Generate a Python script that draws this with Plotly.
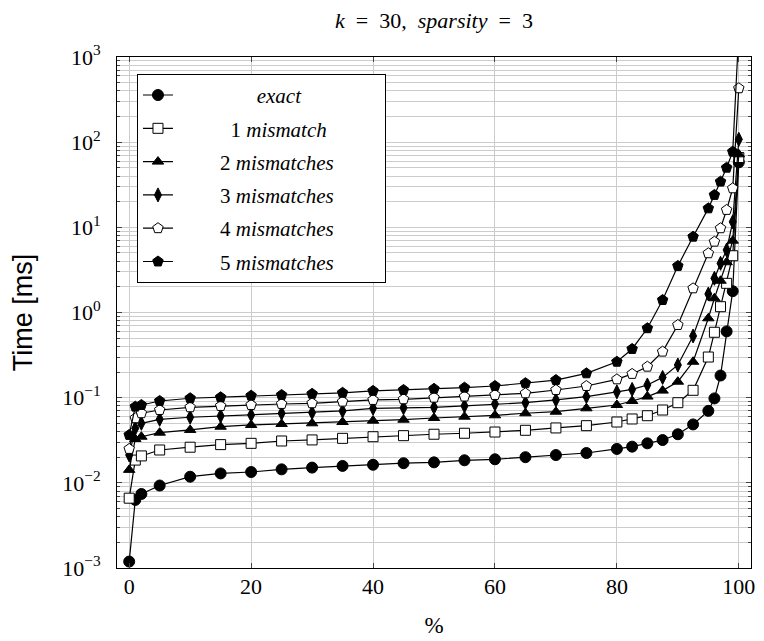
import plotly.graph_objects as go

X = [0, 1, 2, 5, 10, 15, 20, 25, 30, 35, 40, 45, 50, 55, 60, 65, 70, 75,
     80, 82.5, 85, 87.5, 90, 92.5, 95, 96, 97, 98, 99, 100]

exact = [0.00119, 0.0063, 0.0074, 0.0093, 0.0118, 0.0129, 0.0134, 0.0144, 0.0151,
         0.0158, 0.0163, 0.0170, 0.0174, 0.0184, 0.0189, 0.0200, 0.0212, 0.0224,
         0.0250, 0.0266, 0.0291, 0.0318, 0.0372, 0.0485, 0.070, 0.098, 0.182,
         0.60, 1.78, 58]
mis1 = [0.0066, 0.0185, 0.0207, 0.0243, 0.0262, 0.0281, 0.0291, 0.0310, 0.0319,
        0.0333, 0.0348, 0.0358, 0.0372, 0.0382, 0.0395, 0.0414, 0.0441, 0.0469,
        0.0518, 0.0562, 0.0614, 0.0716, 0.0873, 0.122, 0.30, 0.586, 1.17,
        2.2, 4.64, 66]
mis2 = [0.0142, 0.0327, 0.0348, 0.0388, 0.0418, 0.0456, 0.0478, 0.0491, 0.0500,
        0.0518, 0.0537, 0.0551, 0.0577, 0.0598, 0.0621, 0.0656, 0.0684, 0.075,
        0.082, 0.0914, 0.103, 0.121, 0.154, 0.264, 0.855, 1.47, 2.36,
        3.89, 6.97, 72]
mis3 = [0.0212, 0.0437, 0.050, 0.0557, 0.0589, 0.061, 0.0626, 0.0656, 0.0667,
        0.0698, 0.075, 0.076, 0.077, 0.080, 0.0843, 0.0873, 0.094, 0.103,
        0.117, 0.125, 0.141, 0.173, 0.242, 0.530, 1.65, 2.52, 3.78,
        5.42, 11.6, 108]
mis4 = [0.025, 0.0573, 0.0656, 0.0716, 0.0771, 0.0798, 0.082, 0.0843, 0.0859,
        0.0897, 0.094, 0.0957, 0.100, 0.103, 0.1075, 0.1125, 0.123, 0.137,
        0.164, 0.190, 0.231, 0.347, 0.713, 1.92, 4.96, 6.78, 9.75,
        16.0, 28.7, 429]
mis5 = [0.0365, 0.0784, 0.082, 0.0914, 0.0984, 0.101, 0.1055, 0.1075, 0.111,
        0.114, 0.120, 0.123, 0.127, 0.131, 0.137, 0.148, 0.161, 0.193,
        0.264, 0.373, 0.653, 1.40, 3.52, 7.76, 16.7, 24.0, 34.4,
        50.1, 77.3, 2000]

x_ticks = [0, 20, 40, 60, 80, 100]
y_exponents = [-3, -2, -1, 0, 1, 2, 3]

names = ["<i>exact</i>", "1 <i>mismatch</i>", "2 <i>mismatches</i>",
         "3 <i>mismatches</i>", "4 <i>mismatches</i>", "5 <i>mismatches</i>"]
series = [exact, mis1, mis2, mis3, mis4, mis5]

NB = "\u00a0"
lead = [15, 10, 8, 8, 8, 8]
trail = [15, 10, 8, 8, 8, 8]
styles = [
    dict(symbol="circle", size=11, color="black"),
    dict(symbol="square", size=10, color="white"),
    dict(symbol="triangle-up", size=10, color="black"),
    dict(symbol="diamond-tall", size=10, color="black"),
    dict(symbol="pentagon", size=11, color="white"),
    dict(symbol="pentagon", size=11, color="black"),
]

fig = go.Figure()
for i, (nm, ys, st) in enumerate(zip(names, series, styles)):
    fig.add_trace(go.Scatter(
        x=X, y=ys, mode="lines+markers",
        name=NB * lead[i] + nm + NB * trail[i],
        legendgroup=f"g{i}",
        line=dict(color="black", width=1.2),
        marker=dict(symbol=st["symbol"], size=st["size"], color=st["color"],
                    line=dict(color="black", width=1)),
    ))

serif = "Liberation Serif"
grid = "#cccccc"
eq = NB * 2 + "=" + NB * 2
fig.update_layout(
    width=764, height=641,
    margin=dict(l=109, r=21, t=49, b=81, autoexpand=False),
    paper_bgcolor="white", plot_bgcolor="white",
    title=dict(text="<i>k</i>" + eq + "30," + NB * 2 + "<i>sparsity</i>" + eq + "3",
               x=0.5, xref="paper", y=1 - 5 / 641, yref="container",
               xanchor="center", yanchor="top",
               font=dict(family=serif, size=22, color="black")),
    showlegend=True,
    legend=dict(x=0.0315, y=0.967, xanchor="left", yanchor="top",
                bordercolor="black", borderwidth=1, bgcolor="white",
                font=dict(family=serif, size=21, color="black"),
                tracegroupgap=3),
    xaxis=dict(range=[-2, 102], tickmode="array", tickvals=x_ticks,
               automargin=False,
               showgrid=True, gridcolor=grid, gridwidth=1, zeroline=False,
               showline=True, linecolor="black", linewidth=1, mirror="allticks",
               ticks="inside", ticklen=5, tickcolor="#444",
               ticklabelstandoff=-1,
               tickfont=dict(family=serif, size=22, color="black"),
               title=dict(text="%", font=dict(family=serif, size=23, color="black"), standoff=18)),
    yaxis=dict(type="log", range=[-3, 3], tickmode="array",
               tickvals=[10.0 ** e for e in y_exponents],
               ticktext=["10<sup>" + str(e).replace("-", "\u2212") + "</sup>" for e in y_exponents],
               automargin=False,
               showgrid=True, gridcolor=grid, gridwidth=1, zeroline=False,
               showline=True, linecolor="black", linewidth=1, mirror="allticks",
               ticks="inside", ticklen=5, tickcolor="#444",
               minor=dict(dtick="D1", ticks="inside", ticklen=3, tickcolor="#444",
                          showgrid=True, gridcolor=grid, gridwidth=1),
               ticklabelstandoff=11,
               tickfont=dict(family=serif, size=22, color="black"),
               title=dict(text="Time [ms]", font=dict(family="Liberation Sans", size=27, color="black"),
                          standoff=30)),
)

fig.write_html("out.html")
